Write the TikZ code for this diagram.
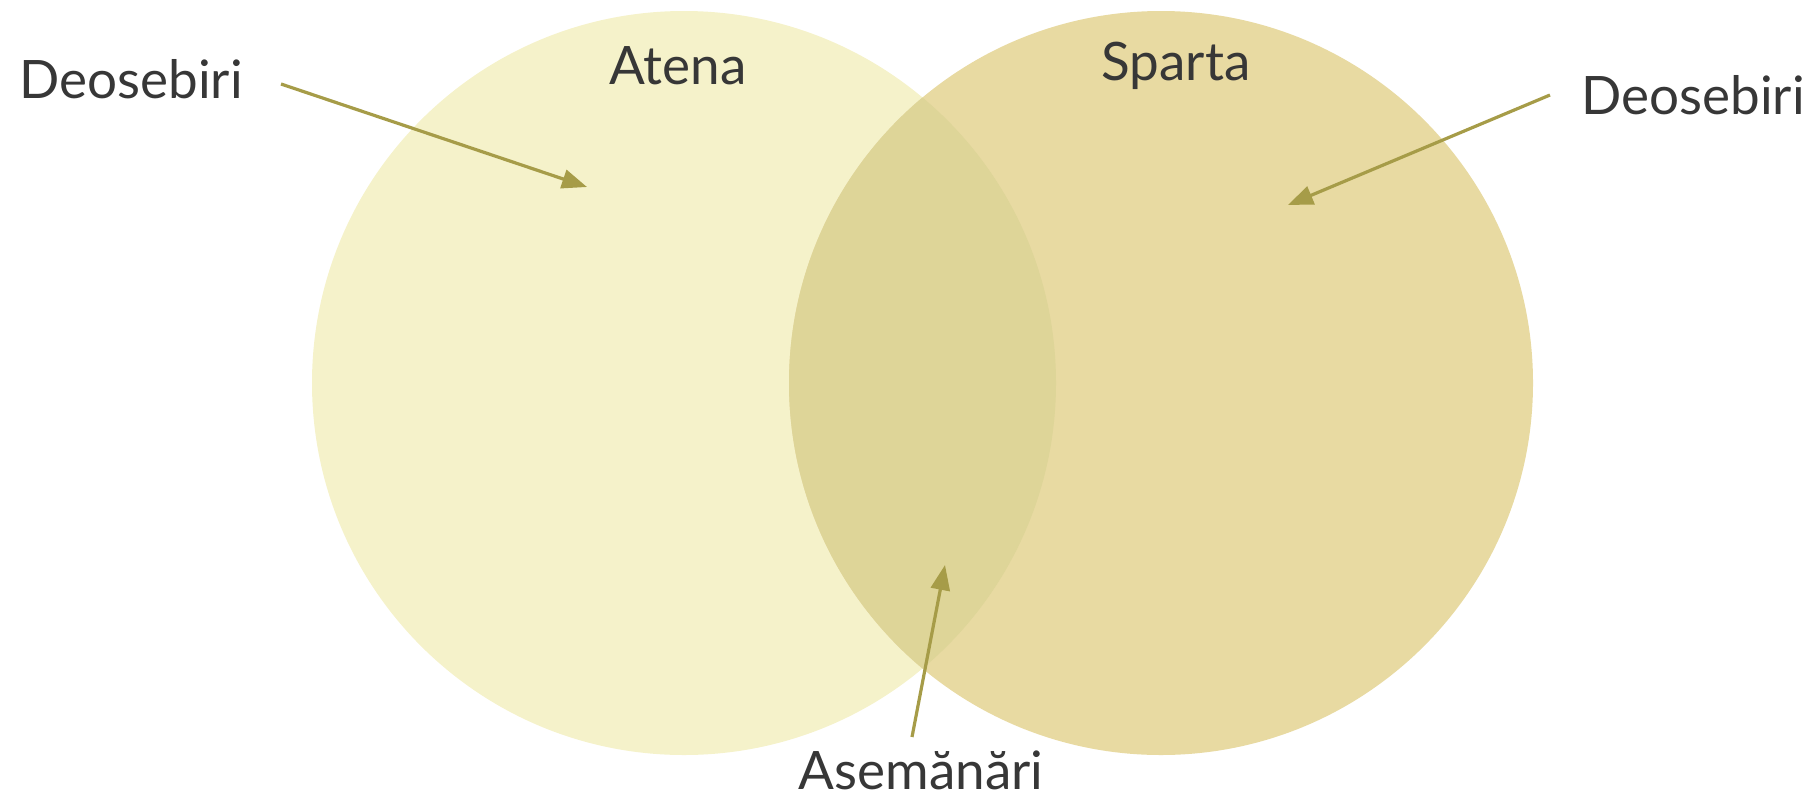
\documentclass[tikz,border=0pt]{standalone}
\usepackage{fontspec}
\setmainfont{Lato}
\usetikzlibrary{arrows.meta}
\definecolor{athfill}{RGB}{245,242,202}
\definecolor{spafill}{RGB}{232,218,162}
\definecolor{bothfill}{RGB}{222,213,152}
\definecolor{arrowcol}{RGB}{166,156,72}
\definecolor{textcol}{RGB}{55,55,55}
\tikzset{
  lbl/.style={text=textcol, font=\fontsize{53}{60}\selectfont, inner sep=0pt},
  ptr/.style={draw=arrowcol, line width=3.2pt, -{Triangle[length=25pt,width=19pt]}},
}
\begin{document}
\begin{tikzpicture}[x=1pt,y=-1pt]
\useasboundingbox (0,0) rectangle (1811,801);
\fill[athfill] (684,383) circle (372);
\fill[spafill] (1161,383) circle (372);
\begin{scope}
  \clip (684,383) circle (372);
  \fill[bothfill] (1161,383) circle (372);
\end{scope}
\node[lbl] (deoL) at (131,79) {Deosebiri};
\node[lbl] (atena) at (678,66) {Atena};
\node[lbl] (sparta) at (1176,66) {Sparta};
\node[lbl] (deoR) at (1693,95) {Deosebiri};
\node[lbl, anchor=base] (asem) at (921,789) {Asemănări};
\coordinate (sL) at (281,84);
\coordinate (tL) at (587,187);
\coordinate (sR) at (1550,95);
\coordinate (tR) at (1288,205);
\coordinate (sB) at (912,737);
\coordinate (tB) at (945,565);
\draw[ptr] (sL) -- (tL);
\draw[ptr] (sR) -- (tR);
\draw[ptr] (sB) -- (tB);
\end{tikzpicture}
\end{document}
